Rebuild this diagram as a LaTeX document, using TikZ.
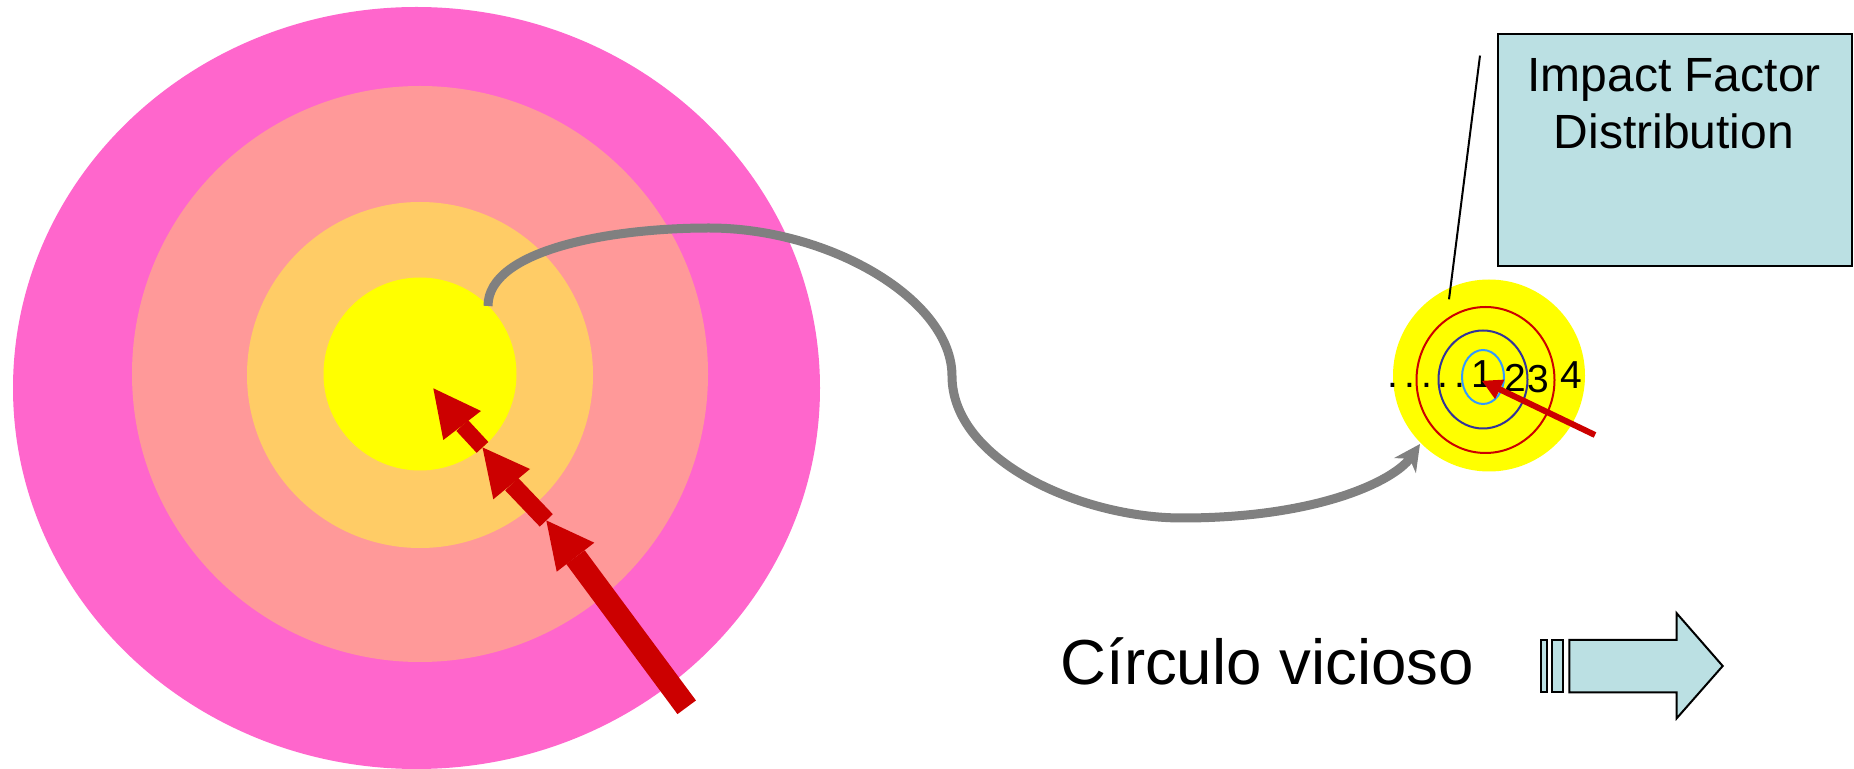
\documentclass[tikz,border=0pt]{standalone}
\usepackage{fontspec}
\setmainfont{Liberation Sans}
\usetikzlibrary{arrows.meta}
\definecolor{ringmag}{HTML}{FF66CC}
\definecolor{ringsal}{HTML}{FF9999}
\definecolor{ringora}{HTML}{FFCC66}
\definecolor{ringyel}{HTML}{FFFF00}
\definecolor{arrred}{HTML}{CC0000}
\definecolor{curvegray}{HTML}{808080}
\definecolor{boxblue}{HTML}{BBE0E3}
\definecolor{navyring}{HTML}{333399}
\definecolor{skyring}{HTML}{3399FF}
\begin{document}
\begin{tikzpicture}[x=0.5pt,y=-0.5pt,
  redshaft/.style={draw=arrred,line cap=butt},
  redhead/.style={fill=arrred},
  thinring/.style={line width=1pt},
  digit/.style={anchor=base,inner sep=0pt,font=\fontsize{19.5}{23}\selectfont},
  lightbox/.style={draw=black,line width=1pt,fill=boxblue},
  graycurve/.style={draw=curvegray,line width=4.5pt}]
\useasboundingbox (0,0) rectangle (1854,769);
% big target
\fill[ringmag] (416.5,388) ellipse [x radius=403.5, y radius=381];
\fill[ringsal] (420,374) circle [radius=288];
\fill[ringora] (420,375) circle [radius=173];
\fill[ringyel] (420,374) circle [radius=96.5];
% red arrows
\coordinate (tail) at (686.7,707.3);
\coordinate (h1a) at (433.3,388.3);
\coordinate (h1b) at (481,411);
\coordinate (h1c) at (443.3,440);
\coordinate (h1m) at (462.2,425.5);
\coordinate (h2a) at (482.5,447.4);
\coordinate (h2b) at (530,469);
\coordinate (h2c) at (493.3,499.3);
\coordinate (h2m) at (511.7,484.2);
\coordinate (h3a) at (546.3,520.4);
\coordinate (h3b) at (594.3,542.7);
\coordinate (h3c) at (556.7,571.7);
\coordinate (h3m) at (575.5,557.2);
\draw[redshaft,line width=11.5pt] (tail) -- (h3m);
\draw[redshaft,line width=9pt] (h3a) -- (h2m);
\draw[redshaft,line width=8pt] (h2a) -- (h1m);
\fill[redhead] (h3a) -- (h3b) -- (h3c) -- cycle;
\fill[redhead] (h2a) -- (h2b) -- (h2c) -- cycle;
\fill[redhead] (h1a) -- (h1b) -- (h1c) -- cycle;
% gray curve
\coordinate (gs) at (488,306);
\coordinate (gtop) at (709,228);
\coordinate (gmid) at (952,376);
\coordinate (glow) at (1182,518);
\coordinate (ge) at (1420,444);
\draw[graycurve,-{Stealth[length=13pt,width=13pt,inset=4pt]}]
  (gs) .. controls (488,250) and (610,228) .. (gtop)
  .. controls (830,228) and (952,300) .. (gmid)
  .. controls (952,460) and (1080,518) .. (glow)
  .. controls (1320,518) and (1395,480) .. (ge);
% small target
\fill[ringyel] (1489,375.5) circle [radius=96];
\draw[arrred,thinring] (1485.5,380) ellipse [x radius=69, y radius=73];
\draw[navyring,thinring] (1483,379.5) ellipse [x radius=44.5, y radius=49];
\draw[skyring,thinring] (1483,377) ellipse [x radius=21, y radius=27];
\node[anchor=base east,inner sep=0pt,font=\fontsize{19.5}{23}\selectfont] (dots) at (1466,388) {.\kern3pt.\kern3pt.\kern3pt.\kern3pt.};
\node[digit] (d1) at (1482.7,388) {1};
\node[digit] (d2) at (1515.7,391.7) {2};
\node[digit] (d3) at (1538.3,392.3) {3};
\node[digit] (d4) at (1571,388.3) {4};
\coordinate (sra) at (1595,435);
\coordinate (srb) at (1481.7,380.7);
\draw[arrred,line width=3pt,-{Triangle[length=10pt,width=10pt]}] (sra) -- (srb);
% pointer line and box
\coordinate (pl1) at (1449,299.3);
\coordinate (pl2) at (1480,55.6);
\draw[black,line width=1pt] (pl1) -- (pl2);
\node[lightbox,anchor=north west,minimum width=177pt,minimum height=116pt,inner sep=0pt] (ifd) at (1497,33) {};
\node[anchor=north,inner sep=0pt,align=center,font=\fontsize{24}{28.35}\selectfont] (ift) at (1674,58.3) {Impact Factor\\Distribution};
% bottom text and arrow
\node[anchor=base west,inner sep=0pt,font=\fontsize{31.8}{37}\selectfont] (cv) at (1060,685) {Círculo vicioso};
\draw[lightbox] (1540.7,640) rectangle (1546.7,692.3);
\draw[lightbox] (1552.3,640) rectangle (1563.3,692.3);
\draw[lightbox,line join=miter] (1569.3,640) -- (1676.7,640) -- (1676.7,613.3) -- (1722.7,666) -- (1676.7,718.3) -- (1676.7,692.3) -- (1569.3,692.3) -- cycle;
\end{tikzpicture}
\end{document}
